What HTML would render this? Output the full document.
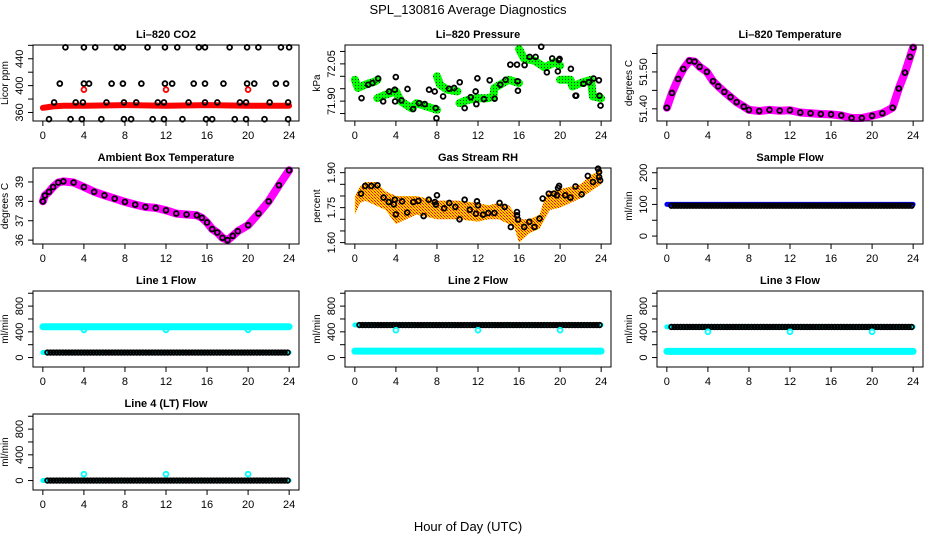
<!DOCTYPE html>
<html><head><meta charset="utf-8">
<style>
html,body{margin:0;padding:0;background:#fff;}
svg{display:block;font-family:"Liberation Sans",sans-serif;}
</style></head>
<body>
<svg id="chart" width="936" height="540" viewBox="0 0 936 540">
<defs>
<pattern id="rhPat" width="3" height="3" patternUnits="userSpaceOnUse">
<rect width="3" height="3" fill="#ffd000"/><rect x="0" y="0" width="1" height="1" fill="#ff0000"/><rect x="1" y="1" width="1" height="1" fill="#ff6000"/><rect x="2" y="2" width="1" height="1" fill="#ff0000"/>
</pattern>
<pattern id="prPat" width="3" height="3" patternUnits="userSpaceOnUse">
<rect width="3" height="3" fill="#00ff00"/><rect x="1" y="1" width="1" height="1" fill="#004000"/>
</pattern>
</defs>
<text x="468" y="14" text-anchor="middle" font-size="13">SPL_130816  Average Diagnostics</text>
<text x="468" y="531" text-anchor="middle" font-size="13">Hour of Day (UTC)</text>
</svg>
<script>
// ---------- data ----------
const xTicks = [0,4,8,12,16,20,24];
// CO2
const co2Levels = [457, 403, 375, 350];
const co2LevelHours = [
 [2.2,4.0,5.1,7.2,7.8,10.2,11.9,13.1,15.2,15.8,18.2,19.9,21.0,23.2,24.0],
 [1.65,4.0,4.5,6.7,7.8,9.6,11.9,12.6,14.7,15.8,17.6,19.9,20.6,22.7,23.7],
 [1.1,3.2,3.9,6.2,7.9,9.1,11.2,11.8,14.2,15.8,17.0,19.2,19.8,22.1,23.9],
 [0.6,2.7,3.8,5.7,7.9,8.6,10.7,11.8,13.6,15.9,16.5,18.7,19.8,21.6,23.9]];
const co2BandHours = [0,0.5,1,2,4,8,12,16,20,24];
const co2BandVals = [367,368,369,370,370,371,370,371,370,370];
const co2OutHours = [4,12,20];
const co2OutVals = [394,394,394];
// Pressure
const prBandHours = [0,0.3,1,2,2.2,null,2.2,3,4,4.5,5.5,6,7,8,null,8,8.3,9,10,null,10.2,11,12,13,13.5,13.6,15,16,null,16,16.5,17.5,18.5,19.5,20,null,20,21,21.2,22,23,23.2,24];
const prBandVals = [71.986,71.953,71.966,71.980,71.986,null,71.912,71.926,71.939,71.899,71.872,71.892,71.878,71.865,null,72.0,71.966,71.946,71.939,null,71.892,71.905,71.912,71.912,71.919,71.953,71.986,71.973,null,72.11,72.07,72.063,72.036,72.057,72.043,null,71.986,71.986,71.959,71.973,71.986,71.919,71.912];
const prPtHours = [0.65,1.3,1.72,2.27,2.76,3.34,3.89,3.99,3.92,4.54,5.13,5.68,6.26,6.81,7.23,7.78,7.88,7.95,8.6,9.18,9.67,10.22,10.7,11.29,11.77,11.84,11.94,12.58,13.14,13.62,14.17,14.69,15.15,15.8,15.86,15.89,16.54,17.03,17.61,18.16,18.71,19.23,19.78,19.88,19.95,21.05,21.5,21.57,22.28,22.8,23.26,23.78,23.84,23.94];
const prPtVals = [71.912,71.966,71.973,71.991,71.899,71.939,71.946,71.997,71.899,71.903,71.949,71.868,71.892,71.888,71.946,71.939,71.872,71.831,71.919,71.950,71.953,71.976,71.872,71.916,71.939,71.888,71.992,71.908,71.984,71.910,71.966,71.986,72.047,72.047,71.980,71.942,72.045,72.078,72.078,72.119,72.016,72.072,72.020,72.065,72.070,72.030,71.922,71.922,71.970,71.976,71.991,71.984,71.922,71.882];
// Li-820 temperature
const tHours = [0,0.5,1.1,1.6,2.2,2.7,3.2,3.9,4.5,5,5.6,6.2,6.8,7.5,8,9,10,11,12,13,14,15,16,17,18,19,20,21,22,22.6,23.2,23.7,24];
const tVals = [51.403,51.443,51.481,51.508,51.530,51.528,51.514,51.500,51.475,51.461,51.446,51.432,51.418,51.406,51.397,51.394,51.397,51.395,51.396,51.390,51.388,51.386,51.385,51.382,51.375,51.375,51.381,51.388,51.403,51.455,51.498,51.541,51.566];
// Ambient temperature
const aHours = [0,0.2,0.6,1,1.5,2,3,4,5,6,7,8,9,10,11,12,13,14,15,15.5,16,16.5,17,17.5,18,18.5,19,20,21,22,23,24];
const aVals = [38.0,38.3,38.49,38.74,38.97,39.03,38.97,38.74,38.49,38.31,38.14,37.97,37.83,37.71,37.66,37.54,37.37,37.32,37.28,37.15,36.91,36.57,36.39,36.12,36.0,36.22,36.46,36.77,37.37,38.0,38.83,39.6];
// Gas stream RH
const rhBandHours = [0,0.5,1,2,3,4,6,8,10,12,13,14,15,15.5,16,17,18,18.5,19,20,21,22,23,24];
const rhUpper = [1.80,1.84,1.86,1.86,1.82,1.80,1.80,1.78,1.78,1.77,1.76,1.77,1.76,1.73,1.70,1.70,1.72,1.79,1.82,1.83,1.84,1.85,1.89,1.91];
const rhLower = [1.72,1.77,1.78,1.76,1.74,1.68,1.72,1.70,1.70,1.69,1.70,1.70,1.68,1.67,1.60,1.64,1.66,1.70,1.74,1.75,1.77,1.79,1.82,1.85];
const rhPtHours = [0.6,1,1.6,2.2,2.8,3.3,3.8,3.9,4,4.6,5.1,5.7,6.2,6.7,7.2,7.8,7.9,8,8.7,9.2,9.8,10.2,10.7,11.2,11.8,11.9,12,12.5,13,13.6,14.1,14.6,15.2,15.8,15.8,15.9,16.5,17,17.5,18,18.3,18.9,19.4,19.7,19.8,19.9,20.5,21,21.5,22.1,22.7,23.2,23.7,23.8,23.8,23.9];
const rhPtVals = [1.810,1.843,1.843,1.846,1.793,1.774,1.764,1.784,1.721,1.777,1.729,1.774,1.779,1.714,1.784,1.774,1.763,1.803,1.747,1.770,1.753,1.700,1.784,1.741,1.724,1.777,1.760,1.720,1.727,1.727,1.770,1.753,1.667,1.731,1.717,1.699,1.667,1.689,1.667,1.703,1.789,1.810,1.810,1.803,1.834,1.843,1.803,1.793,1.841,1.807,1.886,1.860,1.917,1.903,1.881,1.867];
// Flows
const sampleBand = [100];
const samplePts = [96];
const line1Band = [480];
const line1Pts = [78];
const line1Out = [430,430,430];
const line2Band = [100];
const line2Pts = [506];
const line2Out = [425,425,425];
const line3Band = [96];
const line3Pts = [476];
const line3Out = [400,400,400];
const line4Pts = [0];
const line4Out = [100,100,100];
const outHours = [4,12,20];

// ---------- drawing ----------
const NS = "http://www.w3.org/2000/svg";
const svg = document.getElementById('chart');
function el(tag, attrs, parent){
  const e = document.createElementNS(NS, tag);
  for (const k in attrs) e.setAttribute(k, attrs[k]);
  (parent||svg).appendChild(e);
  return e;
}
const colX = [33, 345, 657], rowY = [45, 168, 291, 414], W = 266, H = 76;

function panel(name, col, row, title, ylab, ymin, ymax, ticks, labels){
  const L = colX[col], T = rowY[row];
  const g = el('g', {});
  
  
  const sx = h => L + (h + 0.96) / 25.92 * W;
  const sy = v => T + H - (v - ymin) / (ymax - ymin) * H;
  const plot = el('g', {}, g);
  
  
  const box = el('rect', {x:L, y:T, width:W, height:H, fill:'none', stroke:'#000', 'stroke-width':1}, g);
  
  
  const t = el('text', {x:L + W/2, y:T - 7, 'text-anchor':'middle', 'font-size':11, 'font-weight':'bold'}, g);
  t.textContent = title;
  
  
  const xa = el('g', {}, g);
  
  
  el('line', {x1:sx(0), x2:sx(24), y1:T+H, y2:T+H, stroke:'#000'}, xa);
  xTicks.forEach(v => {
    el('line', {x1:sx(v), x2:sx(v), y1:T+H, y2:T+H+5, stroke:'#000'}, xa);
    const tl = el('text', {x:sx(v), y:T+H+18, 'text-anchor':'middle', 'font-size':11}, xa);
    tl.textContent = v;
    
    
  });
  const ya = el('g', {}, g);
  
  
  el('line', {x1:L, x2:L, y1:sy(ticks[0]), y2:sy(ticks[ticks.length-1]), stroke:'#000'}, ya);
  ticks.forEach(v => el('line', {x1:L-5, x2:L, y1:sy(v), y2:sy(v), stroke:'#000'}, ya));
  labels.forEach(v => {
    const yy = sy(parseFloat(v));
    const tl = el('text', {x:L-10, y:yy, 'text-anchor':'middle', 'font-size':11, transform:`rotate(-90 ${L-10} ${yy})`}, ya);
    tl.textContent = v;
    
    
  });
  const yl = el('text', {x:L-25, y:T+H/2, 'text-anchor':'middle', 'font-size':10, transform:`rotate(-90 ${L-25} ${T+H/2})`}, g);
  yl.textContent = ylab;
  
  
  return {sx, sy, plot};
}
function pts(p, hs, vs, color, name, r){
  hs.forEach((h,i) => {
    if (h === null) return;
    const c = el('circle', {cx:p.sx(h), cy:p.sy(vs[i]), r:r||2.4, fill:'none', stroke:color, 'stroke-width':1.8}, p.plot);
    
    
  });
}
function band(p, hs, vs, stroke, w, name){
  let d = '', start = true;
  hs.forEach((h,i) => {
    if (h === null) { start = true; return; }
    d += (start ? 'M' : 'L') + p.sx(h).toFixed(1) + ',' + p.sy(vs[i]).toFixed(1);
    start = false;
  });
  const path = el('path', {d, fill:'none', stroke, 'stroke-width':w, 'stroke-linecap':'round', 'stroke-linejoin':'round'}, p.plot);
  
  
}
function levelPts(p, v, color, name){
  const hs = []; for (let h = 0.45; h <= 23.95; h += 0.3) hs.push(h);
  pts(p, hs, hs.map(() => v), color, name, 2.3);
}

let p = panel('co2', 0, 0, 'Li\u2013820 CO2', 'Licor ppm', 347.3, 460.5, [360,380,400,420,440,460], ['360','400','440']);
band(p, co2BandHours, co2BandVals, '#ff0000', 6, 'co2-series');
co2Levels.forEach((lv, i) => pts(p, co2LevelHours[i], co2LevelHours[i].map(() => lv), '#000', 'co2-level-point'));
pts(p, co2OutHours, co2OutVals, '#ff0000', 'co2-outlier');

p = panel('pressure', 1, 0, 'Li\u2013820 Pressure', 'kPa', 71.82, 72.126, [71.85,71.90,71.95,72.00,72.05,72.10], ['71.90','72.05']);
band(p, prBandHours, prBandVals, 'url(#prPat)', 8, 'pressure-series');
pts(p, prPtHours, prPtVals, '#000', 'pressure-point');

p = panel('li820-temp', 2, 0, 'Li\u2013820 Temperature', 'degrees C', 51.367, 51.573, [51.40,51.45,51.50,51.55], ['51.40','51.50']);
band(p, tHours, tVals, '#ff00ff', 8, 'li820-temp-series');
pts(p, tHours, tVals, '#000', 'li820-temp-point');

p = panel('ambient-temp', 0, 1, 'Ambient Box Temperature', 'degrees C', 35.8, 39.72, [36,37,38,39], ['36','37','38','39']);
band(p, aHours, aVals, '#ff00ff', 8, 'ambient-temp-series');
pts(p, aHours, aVals, '#000', 'ambient-temp-point');

p = panel('rh', 1, 1, 'Gas Stream RH', 'percent', 1.594, 1.92, [1.60,1.65,1.70,1.75,1.80,1.85,1.90], ['1.60','1.75','1.90']);
{
  let d = '';
  rhBandHours.forEach((h,i) => d += (i ? 'L' : 'M') + p.sx(h).toFixed(1) + ',' + p.sy(rhUpper[i]).toFixed(1));
  for (let i = rhBandHours.length - 1; i >= 0; i--) d += 'L' + p.sx(rhBandHours[i]).toFixed(1) + ',' + p.sy(rhLower[i]).toFixed(1);
  const poly = el('path', {d: d + 'Z', fill:'url(#rhPat)', stroke:'none'}, p.plot);
  
  
}
pts(p, rhPtHours, rhPtVals, '#000', 'rh-point');

p = panel('sample-flow', 2, 1, 'Sample Flow', 'ml/min', -25, 215, [0,50,100,150,200], ['0','100','200']);
band(p, [0,24], [sampleBand[0], sampleBand[0]], '#0000ff', 5, 'sample-flow-band');
levelPts(p, samplePts[0], '#000', 'sample-flow-point');

const fTicks = [0,200,400,600,800,1000], fLabels = ['0','400','800'];
p = panel('line1-flow', 0, 2, 'Line 1 Flow', 'ml/min', -147, 1035, fTicks, fLabels);
band(p, [0,24], [line1Band[0], line1Band[0]], '#00ffff', 7, 'line1-flow-band');
band(p, [0,24], [line1Pts[0], line1Pts[0]], '#00ffff', 5, 'line1-flow-cyan');
levelPts(p, line1Pts[0], '#000', 'line1-flow-point');
pts(p, outHours, line1Out, '#00ffff', 'line1-flow-outlier');

p = panel('line2-flow', 1, 2, 'Line 2 Flow', 'ml/min', -147, 1035, fTicks, fLabels);
band(p, [0,24], [line2Band[0], line2Band[0]], '#00ffff', 7, 'line2-flow-band');
band(p, [0,24], [line2Pts[0], line2Pts[0]], '#00ffff', 5, 'line2-flow-cyan');
levelPts(p, line2Pts[0], '#000', 'line2-flow-point');
pts(p, outHours, line2Out, '#00ffff', 'line2-flow-outlier');

p = panel('line3-flow', 2, 2, 'Line 3 Flow', 'ml/min', -147, 1035, fTicks, fLabels);
band(p, [0,24], [line3Band[0], line3Band[0]], '#00ffff', 7, 'line3-flow-band');
band(p, [0,24], [line3Pts[0], line3Pts[0]], '#00ffff', 5, 'line3-flow-cyan');
levelPts(p, line3Pts[0], '#000', 'line3-flow-point');
pts(p, outHours, line3Out, '#00ffff', 'line3-flow-outlier');

p = panel('line4-flow', 0, 3, 'Line 4 (LT) Flow', 'ml/min', -147, 1035, fTicks, fLabels);
band(p, [0,24], [line4Pts[0], line4Pts[0]], '#00ffff', 5, 'line4-flow-cyan');
levelPts(p, line4Pts[0], '#000', 'line4-flow-point');
pts(p, outHours, line4Out, '#00ffff', 'line4-flow-outlier');
</script>
</body></html>
